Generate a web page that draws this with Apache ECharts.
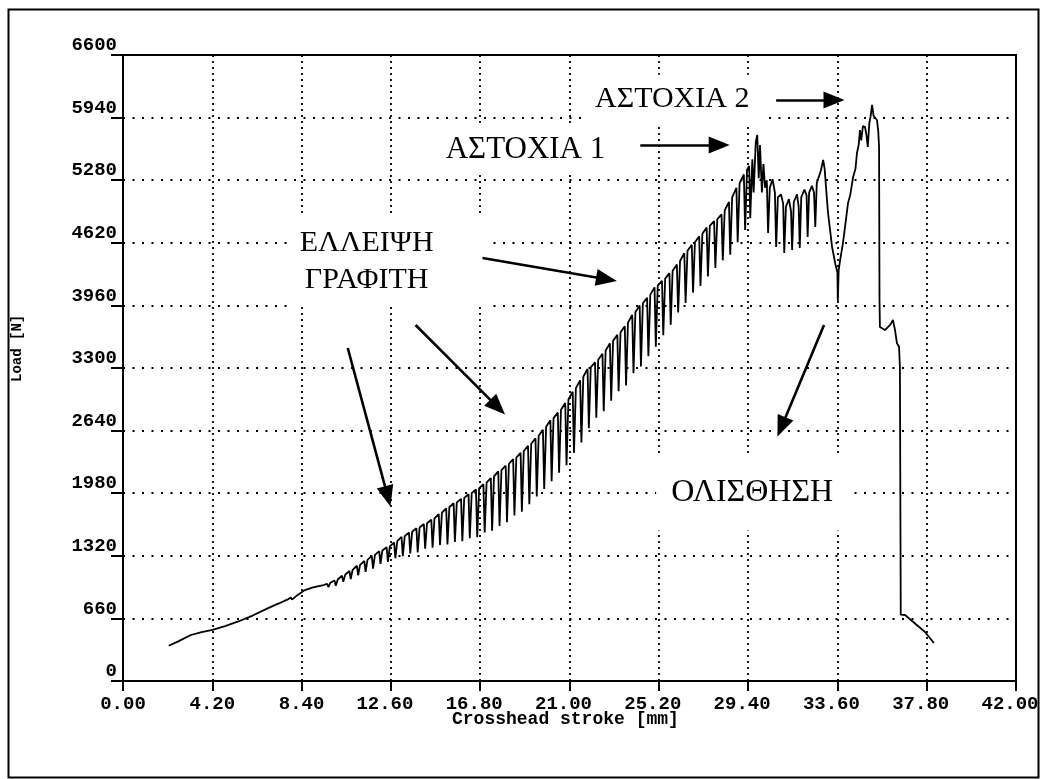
<!DOCTYPE html>
<html>
<head>
<meta charset="utf-8">
<title>Load vs crosshead stroke</title>
<script src="https://cdn.jsdelivr.net/npm/echarts@6/dist/echarts.min.js"></script>
<style>
  html, body { margin: 0; padding: 0; background: #fff; }
  #chart { width: 1042px; height: 779px; }
</style>
</head>
<body>
<div id="chart"></div>
<script>
// Axis ranges and tick spacing
const strokeMin = 0, strokeMax = 42, strokeStep = 4.2;
const loadMin = 0, loadMax = 6600, loadStep = 660;

// Test record: [crosshead stroke (mm), load (N)]
const preloadSegment = [
  [2.15, 372], [2.6, 418], [3.19, 485], [3.7, 515], [4.21, 538], [4.8, 578],
  [5.39, 625], [6.1, 690], [6.8, 766], [7.3, 815], [7.75, 860], [7.89, 880],
  [7.95, 858], [8.2, 905], [8.52, 955], [8.9, 985], [9.2, 1000], [9.44, 1012]
];

const sawtoothLow = [
  [9.60, 1025], [9.66, 990], [9.75, 1035],
  [9.95, 1060], [10.01, 1005], [10.10, 1070],
  [10.30, 1110], [10.36, 1045], [10.45, 1120],
  [10.65, 1160], [10.71, 1075], [10.80, 1172],
  [11.00, 1215], [11.06, 1115], [11.15, 1225],
  [11.35, 1265], [11.41, 1150], [11.50, 1277],
  [11.70, 1320], [11.76, 1185], [11.85, 1330],
  [12.05, 1370], [12.11, 1235], [12.20, 1376],
  [12.40, 1410], [12.46, 1255], [12.55, 1420],
  [12.75, 1460], [12.81, 1295], [12.90, 1474],
  [13.10, 1520], [13.16, 1315], [13.25, 1528],
  [13.45, 1565], [13.51, 1345], [13.60, 1573],
  [13.80, 1610], [13.86, 1355], [13.95, 1618],
  [14.15, 1655], [14.21, 1395], [14.30, 1663],
  [14.50, 1700], [14.56, 1405], [14.65, 1714],
  [14.85, 1760], [14.91, 1435], [15.00, 1774],
  [15.20, 1820], [15.26, 1440], [15.35, 1832],
  [15.55, 1875], [15.61, 1465], [15.70, 1883],
  [15.90, 1920], [15.96, 1475], [16.05, 1930],
  [16.25, 1970], [16.31, 1505], [16.40, 1980],
  [16.60, 2020], [16.66, 1515], [16.75, 2032]
];

const sawtoothMid = [
  [16.95, 2075], [17.01, 1565], [17.10, 2091],
  [17.30, 2140], [17.36, 1585], [17.45, 2158],
  [17.65, 2210], [17.71, 1635], [17.80, 2224],
  [18.00, 2270], [18.06, 1675], [18.15, 2288],
  [18.35, 2340], [18.41, 1745], [18.50, 2356],
  [18.70, 2405], [18.76, 1785], [18.85, 2425],
  [19.05, 2480], [19.11, 1865], [19.20, 2502],
  [19.40, 2560], [19.46, 1945], [19.55, 2586],
  [19.75, 2650], [19.81, 2025], [19.90, 2680],
  [20.10, 2750], [20.16, 2105], [20.25, 2772],
  [20.45, 2830], [20.51, 2195], [20.60, 2860],
  [20.80, 2930], [20.86, 2275], [20.95, 2968],
  [21.15, 3050], [21.21, 2405], [21.30, 3088],
  [21.50, 3170], [21.56, 2515], [21.65, 3208],
  [21.85, 3290], [21.91, 2665], [22.00, 3308],
  [22.20, 3360], [22.26, 2775], [22.35, 3386],
  [22.55, 3450], [22.61, 2845], [22.70, 3484],
  [22.90, 3560], [22.96, 2955], [23.05, 3586]
];

const sawtoothHigh = [
  [23.25, 3650], [23.31, 3055], [23.40, 3676],
  [23.60, 3740], [23.66, 3115], [23.75, 3778],
  [23.95, 3860], [24.01, 3245], [24.10, 3890],
  [24.30, 3960], [24.36, 3315], [24.45, 3982],
  [24.65, 4040], [24.71, 3425], [24.80, 4074],
  [25.00, 4150], [25.06, 3525], [25.15, 4168],
  [25.35, 4220], [25.41, 3645], [25.50, 4242],
  [25.70, 4300], [25.76, 3755], [25.85, 4326],
  [26.05, 4390], [26.11, 3885], [26.20, 4428],
  [26.40, 4510], [26.46, 3985], [26.55, 4536],
  [26.75, 4600], [26.81, 4095], [26.90, 4626],
  [27.10, 4690], [27.16, 4165], [27.25, 4716],
  [27.45, 4780], [27.51, 4265], [27.60, 4798],
  [27.80, 4850], [27.86, 4355], [27.95, 4868],
  [28.15, 4920], [28.21, 4435], [28.30, 4962],
  [28.50, 5050], [28.56, 4495], [28.65, 5100],
  [28.85, 5200], [28.91, 4625], [29.00, 5246],
  [29.20, 5340], [29.26, 4755], [29.35, 5390]
];

const failureOneSegment = [
  [29.45, 5430], [29.50, 4880], [29.60, 5500], [29.66, 5150], [29.76, 5680],
  [29.83, 5757], [29.90, 5300], [29.96, 5650], [30.05, 5150], [30.12, 5450],
  [30.20, 5200], [30.28, 5280], [30.34, 4723], [30.42, 5200], [30.55, 5290],
  [30.66, 5150], [30.72, 4576], [30.80, 5100], [30.95, 5130], [31.05, 5030],
  [31.10, 4512], [31.18, 5000], [31.32, 5080], [31.42, 4950], [31.47, 4544],
  [31.55, 5050], [31.70, 5130], [31.78, 5000], [31.83, 4565], [31.90, 5100],
  [32.05, 5180], [32.15, 5120], [32.20, 4681], [32.27, 5150], [32.40, 5220],
  [32.50, 5150], [32.56, 4787], [32.63, 5250], [32.82, 5380], [32.93, 5493]
];

const slipSegment = [
  [33.00, 5400], [33.10, 5100], [33.16, 4934], [33.35, 4576], [33.50, 4400],
  [33.60, 4310], [33.62, 4000], [33.66, 4330], [33.73, 4439], [33.85, 4600],
  [33.96, 4787]
];

const failureTwoSegment = [
  [34.10, 5040], [34.20, 5120], [34.34, 5314], [34.45, 5400], [34.52, 5567],
  [34.60, 5650], [34.66, 5809], [34.72, 5700], [34.80, 5850], [34.90, 5841],
  [34.97, 5750], [35.03, 5630], [35.10, 5880], [35.16, 5950], [35.23, 6073],
  [35.30, 5960], [35.37, 5946], [35.46, 5915], [35.52, 5800], [35.56, 5630]
];

const unloadSegment = [
  [35.58, 4017], [35.60, 3732], [35.84, 3700], [36.10, 3760], [36.21, 3806],
  [36.31, 3700], [36.40, 3563], [36.50, 3521], [36.54, 3310], [36.58, 700],
  [36.78, 696], [37.72, 517], [38.14, 400]
];

// Annotation texts, anchored in data space [stroke, load]
const noteTexts = [
  { text: 'ΑΣΤΟΧΙΑ 2', at: [26.02, 6134], size: 30, padding: [10, 15, 2, 7] },
  { text: 'ΑΣΤΟΧΙΑ 1', at: [18.93, 5598], size: 31, padding: [6, 8, 6, 8] },
  { text: 'ΕΛΛΕΙΨΗ\nΓΡΑΦΙΤΗ', at: [12.59, 4418], size: 30, padding: [8, 58, 8, 10] },
  { text: 'ΟΛΙΣΘΗΣΗ', at: [29.59, 1982], size: 32, padding: [16, 15, 22, 15] }
];

// Annotation arrows: [from, to] in data space
const noteArrows = [
  [[30.72, 6125], [33.44, 6125]],
  [[24.33, 5651], [28.04, 5651]],
  [[16.91, 4460], [22.74, 4236]],
  [[13.76, 3753], [17.62, 2887]],
  [[10.57, 3511], [12.45, 1946]],
  [[32.97, 3753], [30.97, 2679]]
];

const record = [].concat(
  preloadSegment, sawtoothLow, sawtoothMid, sawtoothHigh,
  failureOneSegment, slipSegment, failureTwoSegment, unloadSegment
);

const monoFont = '"Liberation Mono", "DejaVu Sans Mono", monospace';
const serifFont = '"Liberation Serif", "DejaVu Serif", serif';
const tickFont = { fontFamily: monoFont, fontWeight: 'bold', fontSize: 19, color: '#000' };

const chart = echarts.init(document.getElementById('chart'), null, { renderer: 'canvas' });

chart.setOption({
  backgroundColor: '#ffffff',
  animation: false,
  grid: {
    left: 123, right: 26, top: 55, bottom: 98,
    outerBoundsMode: 'none',
    containLabel: false,
    show: true, borderColor: '#000', borderWidth: 2, backgroundColor: 'transparent'
  },
  xAxis: {
    type: 'value',
    min: strokeMin, max: strokeMax, interval: strokeStep,
    axisLine: { lineStyle: { color: '#000', width: 2 } },
    axisTick: { show: true, length: 10, lineStyle: { color: '#000', width: 2 } },
    axisLabel: {
      // five-character labels sit a little left of their tick, as in a fixed-width readout
      formatter: v => {
        const s = v.toFixed(2);
        return (s.length > 4 ? '{w|' : '{n|') + s + '}';
      },
      rich: {
        n: Object.assign({}, tickFont),
        w: Object.assign({ padding: [0, 12, 0, 0] }, tickFont)
      },
      margin: 14
    },
    splitLine: { show: true, lineStyle: { color: '#000', width: 1.8, type: [2, 4] } }
  },
  yAxis: {
    type: 'value',
    min: loadMin, max: loadMax, interval: loadStep,
    axisLine: { show: true, lineStyle: { color: '#000', width: 1.6 } },
    axisTick: { show: true, length: 12, lineStyle: { color: '#000', width: 2 } },
    axisLabel: Object.assign({
      formatter: v => String(Math.round(v)),
      margin: 6, verticalAlign: 'bottom', lineHeight: 19
    }, tickFont),
    splitLine: { show: true, lineStyle: { color: '#000', width: 1.8, type: [2, 7.5] } }
  },
  series: [
    {
      name: 'Load',
      type: 'line',
      data: record,
      showSymbol: false,
      symbol: 'none',
      lineStyle: { color: '#000', width: 1.8 },
      z: 3,
      markPoint: {
        z: 4,
        silent: true,
        symbol: 'rect',
        symbolSize: 0,
        data: noteTexts.map(n => ({
          coord: n.at,
          value: n.text,
          label: {
            show: true,
            position: 'inside',
            formatter: n.text,
            fontFamily: serifFont,
            fontSize: n.size,
            lineHeight: 37,
            color: '#000',
            backgroundColor: '#fff',
            padding: n.padding,
            align: 'center',
            verticalAlign: 'middle'
          }
        }))
      }
    },
    {
      name: 'arrows',
      type: 'line',
      data: [],
      z: 6,
      markLine: {
        z: 6,
        silent: true,
        animation: false,
        symbol: ['none', 'triangle'],
        symbolSize: [17, 21],
        label: { show: false },
        lineStyle: { color: '#000', width: 2.6, type: 'solid' },
        data: noteArrows.map(a => [{ coord: a[0] }, { coord: a[1] }])
      }
    }
  ],
  graphic: [
    {
      type: 'rect',
      left: 6, top: 7,
      shape: { width: 1030, height: 768 },
      style: { fill: 'none', stroke: '#000', lineWidth: 2 },
      silent: true
    },
    {
      type: 'text',
      left: 452, top: 710,
      style: {
        text: 'Crosshead stroke [mm]',
        font: 'bold 18px ' + monoFont,
        fill: '#000'
      },
      silent: true
    },
    {
      type: 'text',
      x: 10, y: 382,
      rotation: Math.PI / 2,
      style: {
        text: 'Load [N]',
        font: 'bold 14px ' + monoFont,
        fill: '#000',
        textVerticalAlign: 'top'
      },
      silent: true
    }
  ]
});
</script>
</body>
</html>
